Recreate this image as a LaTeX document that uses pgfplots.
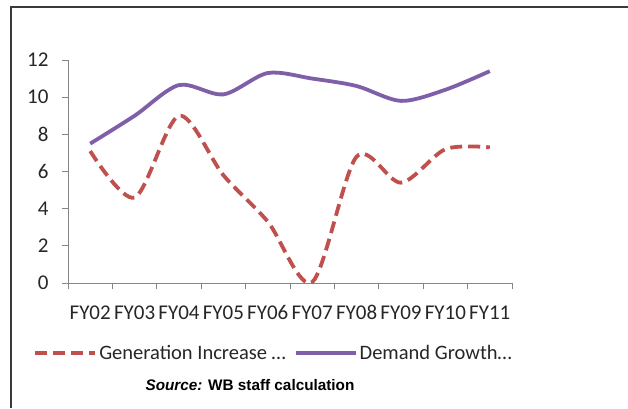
\documentclass[border=0pt]{standalone}
\usepackage{fontspec}
\setmainfont{Carlito}
\newfontfamily\arialf{Liberation Sans}
\usepackage{pgfplots}
\pgfplotsset{compat=1.18}
\definecolor{genred}{HTML}{C0504D}
\definecolor{dempurple}{HTML}{7F5FA8}
\definecolor{axgray}{HTML}{868686}
\definecolor{framec}{HTML}{3A3A3A}
\definecolor{txt}{HTML}{262626}
\begin{document}
\begin{tikzpicture}[x=1pt,y=1pt]
\useasboundingbox (0,0) rectangle (628,408);
\draw[framec, line width=2.2pt] (11,0) -- (11,401) -- (628,401);
\begin{axis}[
  at={(68pt,125pt)}, anchor=south west, scale only axis,
  width=444pt, height=223pt,
  xmin=-0.5, xmax=9.5, ymin=0, ymax=12,
  axis x line=bottom, axis y line=left,
  axis line style={axgray, line width=1pt, -},
  xtick={-0.5,0.5,...,9.5},
  x tick label as interval,
  xticklabels={FY02,FY03,FY04,FY05,FY06,FY07,FY08,FY09,FY10,FY11},
  ytick={0,2,...,12},
  tick align=outside, major tick length=6pt,
  tick style={axgray, line width=1pt},
  tick label style={font=\fontsize{21}{24}\selectfont, text=txt},
  xticklabel style={yshift=-13pt},
  yticklabel style={xshift=-10pt},
  /pgf/number format/assume math mode=true,
  legend columns=2,
  legend style={draw=none, fill=none, at={(axis description cs:-0.085,-0.314)}, anchor=west,
    font=\fontsize{20.5}{24}\selectfont, text=txt,
    /tikz/every even column/.append style={column sep=6pt}},
  legend image code/.code={\draw[#1] (0pt,0pt) -- (60pt,0pt);},
]
\addplot[genred, line width=3.8pt, dash pattern=on 12pt off 6pt, smooth, tension=0.5] coordinates {
  (0,7.1) (1,4.6) (2,9.0) (3,5.8) (4,3.3) (5,0.05) (6,6.8) (7,5.4) (8,7.2) (9,7.3)};
\addlegendentry{Generation Increase \ldots}
\addplot[dempurple, line width=3.8pt, smooth, tension=0.5] coordinates {
  (0,7.5) (1,9.0) (2,10.65) (3,10.15) (4,11.3) (5,11.0) (6,10.6) (7,9.8) (8,10.4) (9,11.4)};
\addlegendentry{Demand Growth\ldots}
\end{axis}
\node[font=\arialf\fontsize{15.3}{17}\selectfont\bfseries, text=black] at (250,23) {\textit{Source:} WB staff calculation};
\end{tikzpicture}
\end{document}
